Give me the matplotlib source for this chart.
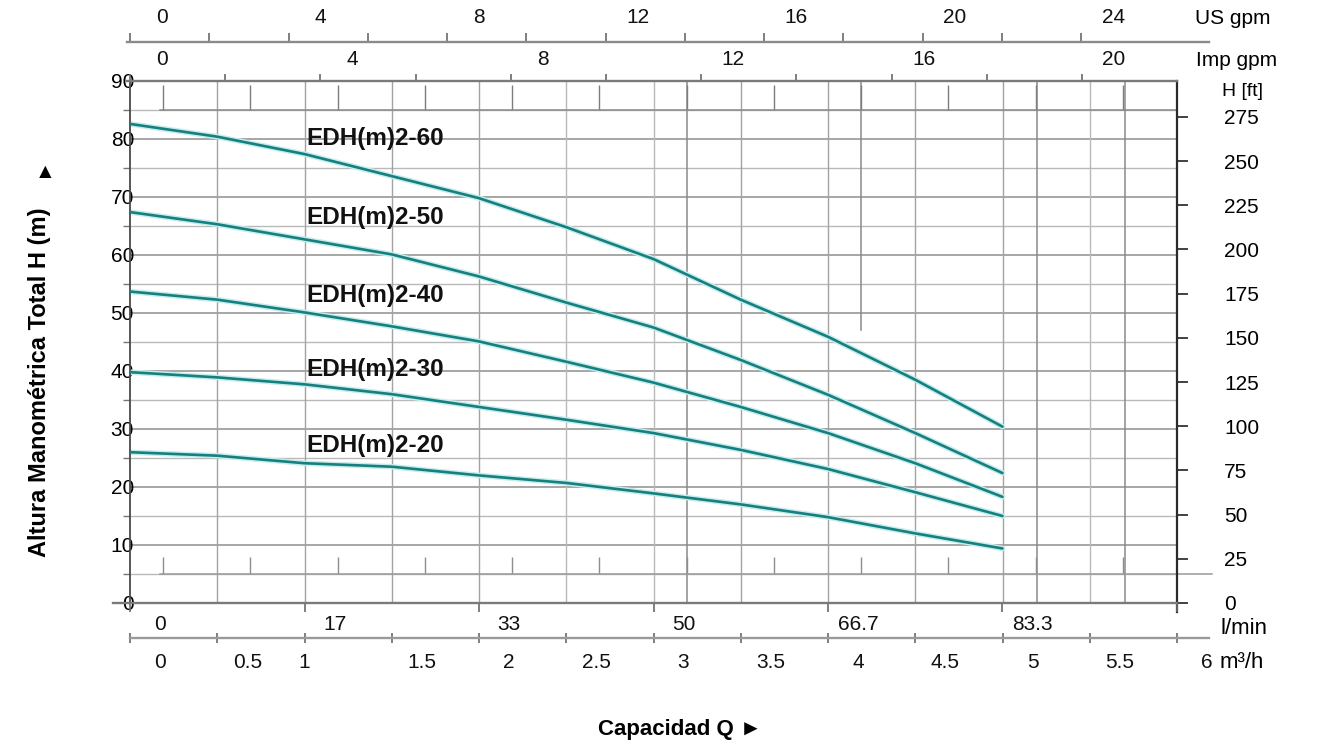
import matplotlib
matplotlib.use("Agg")
import matplotlib.pyplot as plt
import numpy as np

# ---------------- data ----------------
flow_m3h = [0.0, 0.5, 1.0, 1.5, 2.0, 2.5, 3.0, 3.5, 4.0, 4.5, 5.0]
head_2_60 = [82.6, 80.4, 77.4, 73.6, 69.8, 64.8, 59.3, 52.3, 45.9, 38.5, 30.4]
head_2_50 = [67.4, 65.3, 62.7, 60.1, 56.3, 51.8, 47.5, 41.9, 35.9, 29.3, 22.4]
head_2_40 = [53.7, 52.3, 50.1, 47.7, 45.1, 41.6, 38.0, 33.8, 29.3, 24.1, 18.3]
head_2_30 = [39.8, 38.9, 37.7, 36.0, 33.8, 31.6, 29.3, 26.4, 23.1, 19.1, 15.0]
head_2_20 = [26.0, 25.4, 24.1, 23.5, 22.0, 20.7, 18.9, 17.0, 14.8, 12.0, 9.4]
series_names = ["EDH(m)2-60", "EDH(m)2-50", "EDH(m)2-40", "EDH(m)2-30", "EDH(m)2-20"]
series_heads = [head_2_60, head_2_50, head_2_40, head_2_30, head_2_20]

m_ticks = [0, 10, 20, 30, 40, 50, 60, 70, 80, 90]
ft_ticks = [0, 25, 50, 75, 100, 125, 150, 175, 200, 225, 250, 275]
us_gpm_ticks = [0, 4, 8, 12, 16, 20, 24]
imp_gpm_ticks = [0, 4, 8, 12, 16, 20]
lmin_ticks = [0, 16.67, 33.33, 50, 66.67, 83.33]
lmin_labels = ["0", "17", "33", "50", "66.7", "83.3"]
m3h_ticks = [0, 0.5, 1, 1.5, 2, 2.5, 3, 3.5, 4, 4.5, 5, 5.5, 6]
m3h_labels = ["0", "0.5", "1", "1.5", "2", "2.5", "3", "3.5", "4", "4.5", "5", "5.5", "6"]

US_GPM_PER_M3H = 1 / 0.227125
IMP_GPM_PER_M3H = 1 / 0.272765
LMIN_PER_M3H = 1000 / 60
FT_PER_M = 1 / 0.3048

# ---------------- style / layout ----------------
plt.rcParams["font.family"] = ["Liberation Sans", "DejaVu Sans"]
W, H = 1319, 744
fig = plt.figure(figsize=(W / 100, H / 100), dpi=100)
fig.patch.set_facecolor("white")

PX0, PX1 = 130, 1177          # x pixel of 0 and 6 m3/h
PY0, PY1 = 603, 81            # y pixel of 0 and 90 m
PX_PER_M3H = (PX1 - PX0) / 6.0
PT = 72 / 100                  # points per pixel


def fx(px):
    return px / W


def fy(py):
    return 1 - py / H


def px_to_m3h(px):
    return (px - PX0) / PX_PER_M3H


CURVE = "#15807f"
HALO = "#c6ecec"
GRID_D = "#8e8e8e"
GRID_L = "#b9b9b9"
TICK_FS = 15

ax = fig.add_axes([fx(PX0), fy(PY0), (PX1 - PX0) / W, (PY0 - PY1) / H])
ax.set_xlim(0, 6)
ax.set_ylim(0, 90)
ax.patch.set_visible(False)
for s in ["top", "bottom", "right"]:
    ax.spines[s].set_visible(False)
ax.spines["left"].set_color("#4a4a4a")
ax.spines["left"].set_linewidth(1.3)
ax.set_xticks([])

# grid
for yv in np.arange(5, 90, 5):
    major = (yv % 10 == 0)
    ax.axhline(yv, color=GRID_D if major else GRID_L, lw=1.1 if major else 1.0, zorder=0.5)
for xv in np.arange(0.5, 6.0, 0.5):
    ax.axvline(xv, color=GRID_L if xv in (3.0, 5.5, 2.5) else "#a2a2a2", lw=1.0, zorder=0.5)
for xv, y0 in [(3.19, 0), (4.19, 47), (5.2, 0), (5.7, 0)]:
    ax.plot([xv, xv], [y0, 90], color="#8a8a8a", lw=1.1, zorder=0.6)
# inner band ticks (top and bottom)
band_x = np.arange(0.19, 5.8, 0.5)
ax.vlines(band_x, 85, 89.3, color="#7d7d7d", lw=1.0, zorder=0.7)
ax.vlines(band_x, 5, 7.9, color="#8d8d8d", lw=1.0, zorder=0.7)
ax.plot([0.17, 6.2], [5, 5], color="#9a9a9a", lw=1.1, clip_on=False, zorder=0.7)
ax.plot([0.17, 6.0], [85, 85], color="#8a8a8a", lw=1.1, zorder=0.7)

# left axis
ax.set_yticks(m_ticks)
ax.set_yticks(np.arange(5, 90, 10), minor=True)
ax.tick_params(axis="y", which="major", length=0, pad=-4 * PT, labelsize=TICK_FS)
ax.tick_params(axis="y", which="minor", length=7 * PT, width=1.0, color="#777777", direction="out")

# curves
for name, heads in zip(series_names, series_heads):
    ax.plot(flow_m3h, heads, color=HALO, lw=4.0, solid_capstyle="round", zorder=2)
    ax.plot(flow_m3h, heads, color=CURVE, lw=1.9, solid_capstyle="round", zorder=3)

label_y = [80.1, 66.5, 53.0, 40.2, 27.1]
for name, yv in zip(series_names, label_y):
    ax.text(1.01, yv, name, fontsize=17.5, fontweight="bold", ha="left", va="center",
            color="#111111", zorder=5)

# right axis (ft)
ax2 = ax.twinx()
ax2.set_ylim(0, 90 * FT_PER_M)
ax2.set_yticks(ft_ticks)
for s in ["top", "bottom", "left"]:
    ax2.spines[s].set_visible(False)
ax2.spines["right"].set_color("#2a2a2a")
ax2.spines["right"].set_linewidth(1.6)
ax2.spines["right"].set_bounds(-1.6 * FT_PER_M, 90 * FT_PER_M)
ax2.tick_params(axis="y", direction="out", length=11 * PT, width=1.3, color="#333333",
                pad=36 * PT, labelsize=TICK_FS)
for lab in ax2.get_yticklabels():
    lab.set_horizontalalignment("left")


# ---------------- flow scale strips ----------------
def make_strip(y_px, x0_px, x1_px, factor, ticks, label_vals, labels, side,
               tick_dir, tick_len_px, dy, dx=32, color="#8a8a8a", lw=1.7, special_dx=None):
    s_ax = fig.add_axes([fx(x0_px), fy(y_px), (x1_px - x0_px) / W, 1e-4])
    s_ax.set_xlim(px_to_m3h(x0_px) * factor, px_to_m3h(x1_px) * factor)
    s_ax.set_ylim(0, 1)
    s_ax.patch.set_visible(False)
    for sp in s_ax.spines.values():
        sp.set_visible(False)
    s_ax.spines[side].set_visible(True)
    s_ax.spines[side].set_color(color)
    s_ax.spines[side].set_linewidth(lw)
    s_ax.set_yticks([])
    s_ax.xaxis.set_ticks_position(side)
    s_ax.set_xticks(ticks)
    s_ax.tick_params(axis="x", direction=tick_dir, length=tick_len_px * PT, width=1.2,
                     color="#6a6a6a", labelbottom=False, labeltop=False)
    for v, lab in zip(label_vals, labels):
        ddx = dx
        if special_dx and lab in special_dx:
            ddx = special_dx[lab]
        s_ax.annotate(lab, xy=(v, 0.5), xycoords=("data", "axes fraction"),
                      xytext=(ddx, dy), textcoords="offset pixels",
                      ha="center", va="center", fontsize=TICK_FS, color="#111111")
    return s_ax


# US gpm
make_strip(42, 127, 1209, US_GPM_PER_M3H, np.arange(0, 26, 2), us_gpm_ticks,
           [str(v) for v in us_gpm_ticks], "top", "out", 9, 24, dx=32)
# Imp gpm
make_strip(81, 127, PX1, IMP_GPM_PER_M3H, np.arange(0, 22, 2), imp_gpm_ticks,
           [str(v) for v in imp_gpm_ticks], "top", "out", 7, 21, dx=32, color="#7a7a7a")
# l/min
make_strip(603, 113, PX1, LMIN_PER_M3H, lmin_ticks + [100.0], lmin_ticks, lmin_labels,
           "bottom", "out", 9, -22, dx=30, color="#7a7a7a")
# m3/h
make_strip(638, 130, 1209, 1.0, m3h_ticks, m3h_ticks, m3h_labels,
           "bottom", "inout", 10, -25, dx=30, color="#9a9a9a", special_dx={"1": 0})

# ---------------- unit names and titles ----------------
fig.text(fx(1195), fy(18), "US gpm", fontsize=15, ha="left", va="center")
fig.text(fx(1196), fy(60), "Imp gpm", fontsize=15, ha="left", va="center")
fig.text(fx(1222), fy(91), "H [ft]", fontsize=14, ha="left", va="center")
fig.text(fx(1221), fy(629), "l/min", fontsize=16, ha="left", va="center")
fig.text(fx(1220), fy(662), "m³/h", fontsize=16, ha="left", va="center")

fig.text(fx(40), fy(382), "Altura Manométrica Total H (m)", fontsize=17, fontweight="bold",
         rotation=90, ha="center", va="center")
fig.text(fx(45), fy(172), "▲", fontsize=15, ha="center", va="center")
fig.text(fx(680), fy(730), "Capacidad Q ►", fontsize=16, fontweight="bold",
         ha="center", va="center")

fig.savefig("out.png", dpi=100, facecolor="white")
